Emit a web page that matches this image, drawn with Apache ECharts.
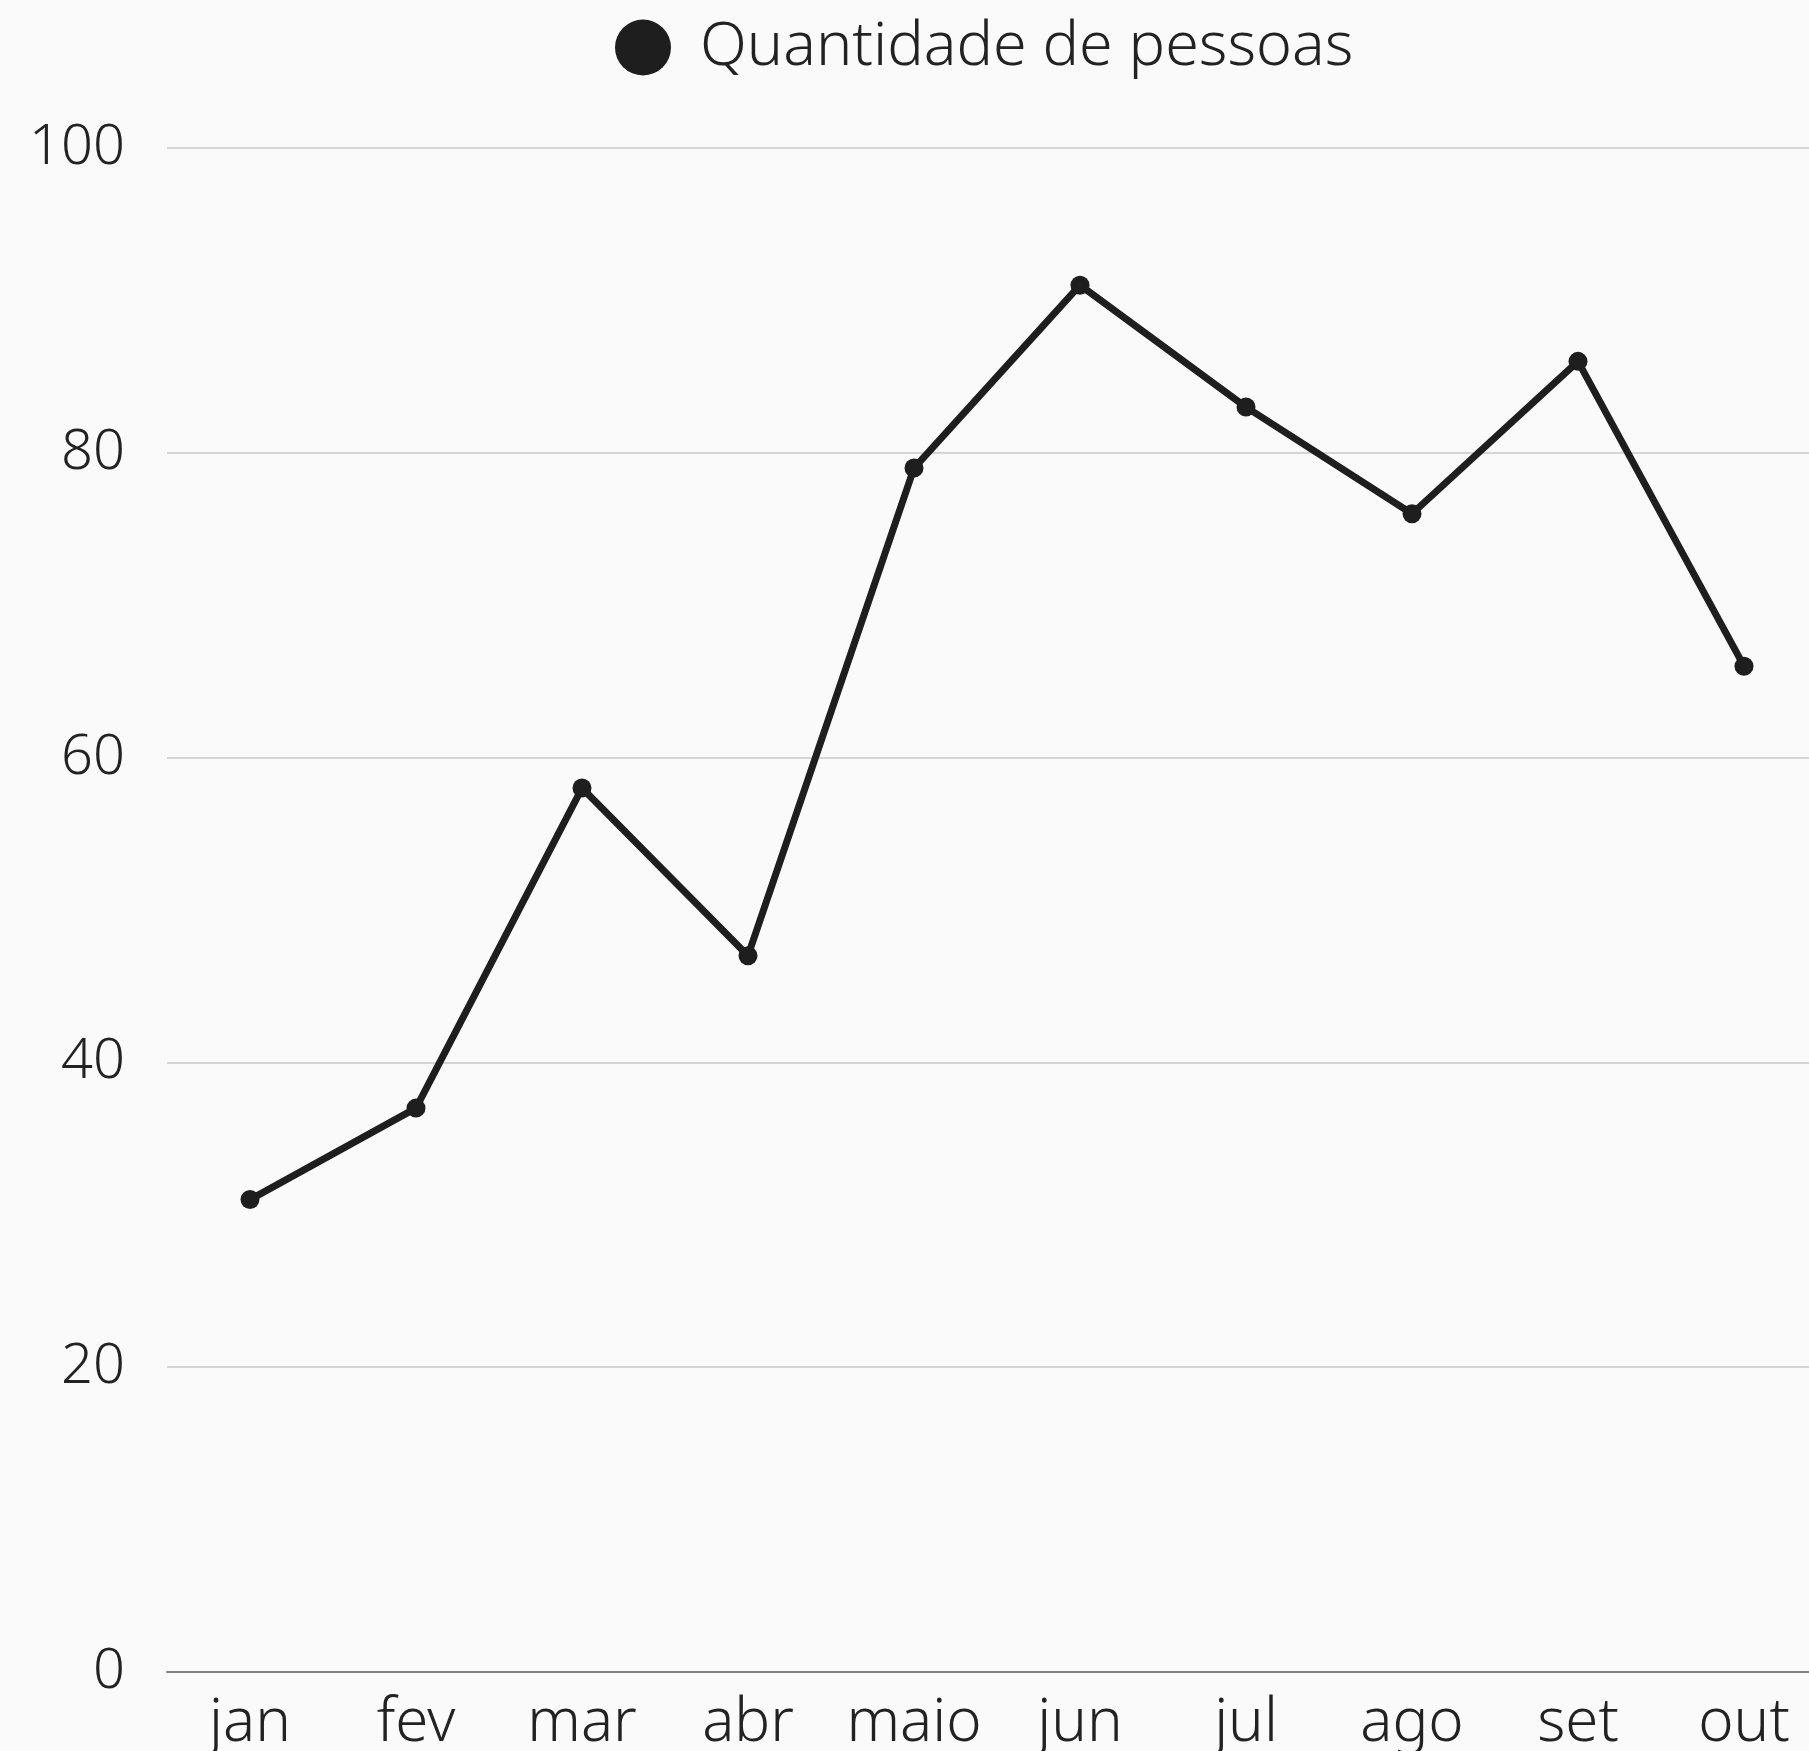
<!DOCTYPE html>
<html>
<head>
<meta charset="utf-8">
<script src="https://cdn.jsdelivr.net/npm/echarts@6/dist/echarts.min.js"></script>
<style>
  html, body { margin: 0; padding: 0; background: #fafafa; }
  #chart { width: 1809px; height: 1751px; }
</style>
</head>
<body>
<div id="chart"></div>
<script>
// dados
const meses = ['jan', 'fev', 'mar', 'abr', 'maio', 'jun', 'jul', 'ago', 'set', 'out']
const pessoas = [31, 37, 58, 47, 79, 91, 83, 76, 86, 66]
const serieNome = 'Quantidade de pessoas'

const fonte = '"Noto Sans", sans-serif'
const corTexto = '#222222'

const myChart = echarts.init(document.getElementById('chart'))
const option = {
  backgroundColor: '#fafafa',
  textStyle: { fontFamily: fonte },
  legend: {
    show: true,
    data: [serieNome],
    top: 12,
    left: 610,
    icon: 'circle',
    itemWidth: 56,
    itemHeight: 56,
    itemGap: 10,
    textStyle: {
      color: corTexto,
      fontSize: 61,
      fontFamily: fonte,
      fontWeight: 300,
      padding: [0, 0, 0, 24]
    }
  },
  grid: {
    left: 167,
    width: 1660,
    top: 148,
    bottom: 79,
    outerBoundsMode: 'none'
  },
  xAxis: {
    type: 'category',
    data: meses,
    boundaryGap: true,
    axisLine: { lineStyle: { color: '#808080', width: 2 } },
    axisTick: { show: false },
    axisLabel: {
      color: corTexto,
      fontSize: 60,
      fontWeight: 300,
      margin: 22,
      interval: 0
    }
  },
  yAxis: {
    type: 'value',
    min: 0,
    max: 100,
    interval: 20,
    axisLine: { show: false },
    axisTick: { show: false },
    splitLine: { lineStyle: { color: '#c8c8c8', width: 1.5 } },
    axisLabel: {
      color: corTexto,
      fontSize: 56,
      fontWeight: 300,
      margin: 42
    }
  },
  series: [
    {
      name: serieNome,
      type: 'line',
      data: pessoas,
      symbol: 'circle',
      symbolSize: 19,
      showSymbol: true,
      lineStyle: { color: '#1e1e1e', width: 7 },
      itemStyle: { color: '#1e1e1e' }
    }
  ]
}
myChart.setOption(option)
window.addEventListener('resize', () => myChart.resize(), false)
</script>
</body>
</html>
